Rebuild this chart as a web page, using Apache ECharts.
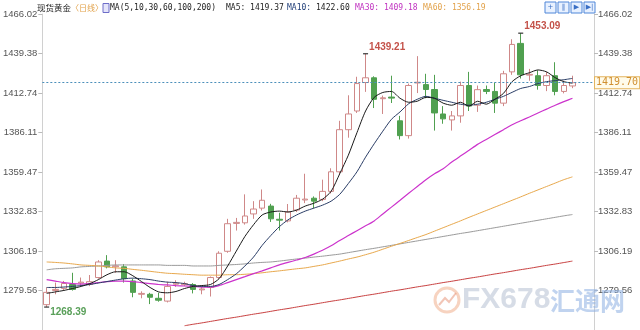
<!DOCTYPE html>
<html><head><meta charset="utf-8">
<script src="https://cdn.jsdelivr.net/npm/echarts/dist/echarts.min.js"></script>
<style>html,body{margin:0;padding:0;background:#fff}#c{width:640px;height:330px}</style>
</head><body><div id="c"></div>
<script>
// ---------- data ----------
const categories = ['05-03','05-06','05-07','05-08','05-09','05-10','05-13','05-14','05-15','05-16',
 '05-17','05-20','05-21','05-22','05-23','05-24','05-27','05-28','05-29','05-30',
 '05-31','06-03','06-04','06-05','06-06','06-07','06-10','06-11','06-12','06-13',
 '06-14','06-17','06-18','06-19','06-20','06-21','06-24','06-25','06-26','06-27',
 '06-28','07-01','07-02','07-03','07-04','07-05','07-08','07-09','07-10','07-11',
 '07-12','07-15','07-16','07-17','07-18','07-19','07-22','07-23','07-24','07-25',
 '07-26','07-29','07-30','07-31'];
const opens = [1270,1279.6,1281,1283.6,1284.6,1283.6,1288.3,1299.4,1295.6,1295.5,
 1286,1277,1277,1274.3,1272.4,1283.8,1283.5,1283.6,1280,1281.6,
 1288.3,1306,1324.8,1325.2,1331.2,1335.1,1336.5,1327.6,1326.5,1333.8,
 1340.6,1341.8,1341,1346.4,1359.6,1388,1400.6,1419.8,1423,1408.9,
 1410,1394,1384,1419.5,1418.4,1415.1,1398.6,1394.6,1397.3,1417.8,
 1404.5,1415.1,1413.8,1405.9,1427,1446.2,1424.8,1424.4,1417.8,1424.4,
 1413.8,1417.5];
const closes = [1278.3,1280.3,1284.3,1280.3,1285.2,1285.5,1298.8,1295.5,1296.2,1287.5,
 1278.3,1277.6,1275,1273,1282.3,1284.5,1284.2,1280.3,1280.6,1288.3,
 1304.7,1324.6,1325.5,1329.8,1334.5,1340.4,1327.9,1327,1332.5,1341.8,
 1341.2,1339.8,1346.4,1359.6,1388,1398.6,1419.1,1423,1408.5,1409.5,
 1409.3,1384,1417.8,1420,1415.1,1399.3,1395.3,1397.3,1417.8,1403.9,
 1415,1413.8,1405.9,1425.7,1445.5,1425,1425.3,1417.8,1424.4,1413.8,
 1417.8,1419.7];
const highs = [1281.6,1284.9,1286,1291.5,1288.3,1290,1300,1303.4,1300,1297.4,
 1287.5,1279,1278,1278,1285.5,1286.5,1285.5,1284.5,1282,1289,
 1306,1327.9,1328.5,1344.4,1339.8,1347.7,1338,1332,1337.9,1344,
 1358.3,1343,1354.3,1362,1394,1411.2,1423.7,1439.21,1424,1411,
 1424.4,1397.3,1419.1,1437.6,1425.7,1425,1403.9,1400.6,1420.4,1427,
 1417.8,1417.8,1419.8,1427.7,1449,1453.09,1429,1428,1427,1433.5,
 1421,1424.4];
const lows = [1268.39,1277,1279.6,1279.5,1283,1282.5,1287.5,1294.5,1291.5,1284.9,
 1275,1274.3,1270.4,1272,1271.5,1282,1282.5,1277.6,1277,1275.5,
 1287.5,1305,1320,1324,1327.9,1333.5,1325.8,1320,1325.5,1332.5,
 1338.5,1335,1339.8,1345,1357.6,1382.6,1399.3,1413.5,1402.6,1398.6,
 1406,1381.4,1382,1412.7,1409.2,1387.4,1392,1387.4,1392.7,1400.6,
 1400,1412,1399.3,1403.9,1425,1422.5,1421,1415,1414,1411.2,
 1412.5,1416];
const ma5 = [1277.6,1278.6,1279.6,1280.9,1282.3,1284.2,1286.9,1290.2,1292.2,1292.2,
 1289.5,1285.6,1281.6,1278.6,1278,1278.9,1280.9,1282.3,1282.9,1283.6,
 1287.5,1296.1,1306.1,1316,1323.9,1330.5,1332.5,1333.1,1332.5,1333.8,
 1336.5,1338.4,1341.1,1346.4,1358.3,1370.8,1386,1400.6,1409.8,1413.1,
 1413.8,1409.2,1406.5,1407.2,1409.8,1409.2,1405.9,1404.5,1406.5,1403.9,
 1407.2,1405.2,1408.5,1412.5,1420.4,1424.4,1426.4,1428.3,1427,1423.1,
 1420.4,1419.37];
const ma10 = [1281.6,1281.6,1281.9,1282.3,1282.9,1283.6,1284.6,1285.6,1286.6,1287.5,
 1287.9,1287.5,1286.9,1285.9,1285.2,1284.9,1284.2,1282.9,1282.3,1282.3,
 1283.6,1286.9,1290.8,1296.1,1302.1,1310,1316.6,1322.6,1327.2,1330.5,
 1333.1,1335.1,1337.1,1339.8,1344.4,1351.7,1359.6,1369.5,1378.5,1387,
 1395,1400,1405.5,1408.5,1410.5,1409.2,1407.8,1406.5,1405.2,1404.5,
 1405.2,1406.5,1408.5,1410.5,1413.2,1415.8,1417.1,1419.1,1420.4,1421.1,
 1421.7,1422.6];
const ma30 = [1286.9,1285.9,1284.9,1284.2,1283.9,1284.2,1284.9,1285.6,1285.9,1285.9,
 1285.6,1284.9,1284.2,1283.6,1283.3,1282.9,1282.6,1282.3,1281.9,1281.9,
 1282.9,1284.9,1286.9,1288.9,1290.9,1292.8,1294.8,1296.8,1298.5,1300.1,
 1301.8,1304.1,1306.7,1309.7,1313.3,1316.6,1319.9,1323.2,1326.5,1331.2,
 1335.8,1340.4,1345.1,1349.7,1354.3,1358.3,1361.6,1366.2,1370.2,1374.1,
 1378.1,1381.4,1384.7,1388,1391.3,1394,1396.6,1399.3,1401.9,1404.5,
 1406.9,1409.18];
const ma60 = [1298.8,1298.5,1298.1,1297.5,1296.8,1296.5,1296.1,1295.5,1294.8,1294.5,
 1293.8,1293.2,1292.5,1291.8,1291.2,1290.9,1290.5,1290.2,1289.9,1289.9,
 1289.9,1290.2,1290.2,1290.5,1290.9,1291.5,1292.2,1292.8,1293.5,1294.2,
 1294.8,1295.8,1296.8,1298.1,1299.4,1300.8,1302.1,1303.7,1305.4,1307.4,
 1309.4,1311.3,1313.3,1315.3,1317.3,1319.6,1321.9,1324.2,1326.5,1328.9,
 1331.2,1333.5,1335.8,1338.1,1340.4,1342.7,1345.1,1347.4,1349.7,1352,
 1354.3,1356.19];
const ma100 = [1293.5,1294.2,1294.5,1294.8,1295.5,1295.8,1296.1,1296.5,1296.8,1296.8,
 1296.8,1296.8,1296.8,1296.8,1296.5,1296.5,1296.5,1296.1,1296.1,1296.1,
 1296.5,1296.8,1297.1,1297.5,1298.1,1298.5,1298.8,1299.4,1300.1,1300.8,
 1301.4,1302.1,1302.7,1303.4,1304.1,1305.1,1306.1,1307.1,1308,1309,
 1310,1311,1312,1313,1314,1315,1316,1317,1318,1318.9,
 1319.9,1320.9,1321.9,1322.9,1323.9,1324.9,1325.9,1326.9,1327.9,1328.9,
 1329.9,1330.8];
const ma200 = ['-','-','-','-','-','-','-','-','-','-',
 '-','-','-','-','-','-',1255.8,1256.8,1257.7,1258.7,
 1259.7,1260.7,1261.6,1262.6,1263.6,1264.5,1265.5,1266.5,1267.4,1268.4,
 1269.4,1270.3,1271.3,1272.3,1273.2,1274.2,1275.2,1276.2,1277.1,1278.1,
 1279.1,1280,1281,1282,1282.9,1283.9,1284.9,1285.8,1286.8,1287.8,
 1288.7,1289.7,1290.7,1291.6,1292.6,1293.6,1294.5,1295.5,1296.5,1297.4,
 1298.4,1299.4];
const yTickLabels = ['1279.56','1306.19','1332.83','1359.47','1386.11','1412.74','1439.38','1466.02'];
const markedHighs = [37, 55];
const markedLows = [0];
const legendValues = {MA5:'1419.37', MA10:'1422.60', MA30:'1409.18', MA60:'1356.19'};

// ---------- build ----------
const yTicks = yTickLabels.map(Number);
const step = (yTicks[yTicks.length-1] - yTicks[0]) / (yTicks.length-1);
const yMin = yTicks[0] - step, yMax = yTicks[yTicks.length-1];
const fmtY = v => { const k = Math.round((v - yTicks[0]) / step); return (k >= 0 && k < yTickLabels.length && Math.abs(v - yTicks[0] - k*step) < step/4) ? yTickLabels[k] : ''; };
const kdata = opens.map((o,i) => [o, closes[i], lows[i], highs[i]]);
const lastClose = closes[closes.length-1];

const yAxisBase = {
  type:'value', min:yMin, max:yMax, interval:step, scale:true,
  splitLine:{show:false},
  axisLine:{show:true, lineStyle:{color:'#d0d0d0'}},
  axisTick:{show:true, length:4, lineStyle:{color:'#bbb'}},
  axisLabel:{formatter:fmtY, color:'#555', fontSize:9.5, fontFamily:'Liberation Sans, Arial', showMinLabel:false}
};

const lineS = (name, data, color, w) => ({
  name, type:'line', data, symbol:'none', smooth:0.25, z:3,
  lineStyle:{color, width:w||1}, itemStyle:{color}, silent:true
});

const monoFont = '8px "DejaVu Sans Mono", monospace';
const header = [
  {type:'text', x:37, y:8, style:{text:'现货黄金', fill:'#222', font:'8.5px "Noto Sans CJK SC"', verticalAlign:'middle'}},
  {type:'text', x:71, y:8, style:{text:'〈日线〉', fill:'#e2a24a', font:'8px "Noto Sans CJK SC"', verticalAlign:'middle'}},
  {type:'rect', shape:{x:103, y:3.5, width:6, height:9}, style:{fill:'#e4e4fa', stroke:'#6d6dc8', lineWidth:1}},
  {type:'text', x:110, y:8, style:{text:'MA(5,10,30,60,100,200)', fill:'#222', font:monoFont, verticalAlign:'middle'}},
  {type:'text', x:226, y:8, style:{text:'MA5: ' + legendValues.MA5, fill:'#222', font:monoFont, verticalAlign:'middle'}},
  {type:'text', x:287, y:8, style:{text:'MA10:', fill:'#23407a', font:monoFont, verticalAlign:'middle'}},
  {type:'text', x:316, y:8, style:{text:legendValues.MA10, fill:'#222', font:monoFont, verticalAlign:'middle'}},
  {type:'text', x:355, y:8, style:{text:'MA30: ' + legendValues.MA30, fill:'#c033c0', font:monoFont, verticalAlign:'middle'}},
  {type:'text', x:423, y:8, style:{text:'MA60: ' + legendValues.MA60, fill:'#e2a24a', font:monoFont, verticalAlign:'middle'}}
];
const icons = ['+','‖','▶','▶|'];
icons.forEach((g,k) => {
  header.push({type:'rect', shape:{x:545+k*13, y:2, width:11, height:11}, style:{fill:'#e8f1ff', stroke:'#4f86d8', lineWidth:1}});
  header.push({type:'text', x:550.5+k*13, y:7.5, style:{text:g, fill:'#3a6fc4', font:'7px "DejaVu Sans"', align:'center', verticalAlign:'middle'}});
});
const watermark = [
  {type:'circle', shape:{cx:447, cy:300, r:12}, style:{fill:'none', stroke:'rgba(240,175,140,0.55)', lineWidth:3}, z:100},
  {type:'polyline', shape:{points:[[439,305],[445,298],[449,302],[456,293]]}, style:{stroke:'rgba(230,140,110,0.5)', lineWidth:2, fill:'none'}, z:100},
  {type:'text', x:462, y:300, style:{text:'FX678', fill:'rgba(180,192,210,0.55)', font:'bold 30px "Liberation Sans"', verticalAlign:'middle'}, z:100},
  {type:'text', x:550, y:300, style:{text:'汇通网', fill:'rgba(140,175,226,0.55)', font:'bold 25px "Noto Sans CJK SC"', verticalAlign:'middle'}, z:100}
];

const markData = [];
markedHighs.forEach(i => markData.push({coord:[i, highs[i]], value:highs[i].toFixed(2),
  label:{position:'right', distance:1, offset:[0,-7], color:'#c4524a'}}));
markedLows.forEach(i => markData.push({coord:[i, lows[i]], value:lows[i].toFixed(2),
  label:{position:'right', distance:1, offset:[0,5], color:'#5aa05a'}}));

const option = {
  animation:false,
  backgroundColor:'#fff',
  grid:{left:34, top:14, width:560, height:322.4},
  xAxis:{type:'category', data:categories, boundaryGap:true, show:false},
  yAxis:[Object.assign({position:'left'}, yAxisBase, {axisLabel:Object.assign({}, yAxisBase.axisLabel, {margin:5})}),
         Object.assign({position:'right'}, yAxisBase, {axisLabel:Object.assign({}, yAxisBase.axisLabel, {margin:4})})],
  graphic:header.concat(watermark),
  series:[
    {name:'K', type:'candlestick', data:kdata, barWidth:6, z:2,
     itemStyle:{color:'#ffffff', color0:'#50a050', borderColor:'#cf8888', borderColor0:'#50a050', borderWidth:1},
     markPoint:{symbol:'rect', symbolSize:[5,1.2], itemStyle:{color:'#333'}, silent:true, data:markData,
       label:{show:true, formatter:p => p.value, fontSize:10, fontWeight:'bold', fontFamily:'Liberation Sans, Arial'}},
     markLine:{symbol:['none','none'], silent:true, data:[{yAxis:lastClose}],
       lineStyle:{color:'#4b8fba', type:[2,2], width:1},
       label:{position:'end', distance:1, formatter:lastClose.toFixed(2), color:'#d08f30', fontSize:10,
         fontFamily:'"DejaVu Sans Mono", monospace', backgroundColor:'#fffbea', borderColor:'#e3b45e', borderWidth:1, padding:[1,1,0,1]}}
    },
    lineS('MA200', ma200, '#c84040'),
    lineS('MA100', ma100, '#9a9a9a'),
    lineS('MA60', ma60, '#e8a84c'),
    lineS('MA30', ma30, '#cc33cc', 1.2),
    lineS('MA10', ma10, '#2a3d66'),
    lineS('MA5', ma5, '#1a1a1a')
  ]
};
const chart = echarts.init(document.getElementById('c'), null, {renderer:'canvas'});
chart.setOption(option);
</script></body></html>
